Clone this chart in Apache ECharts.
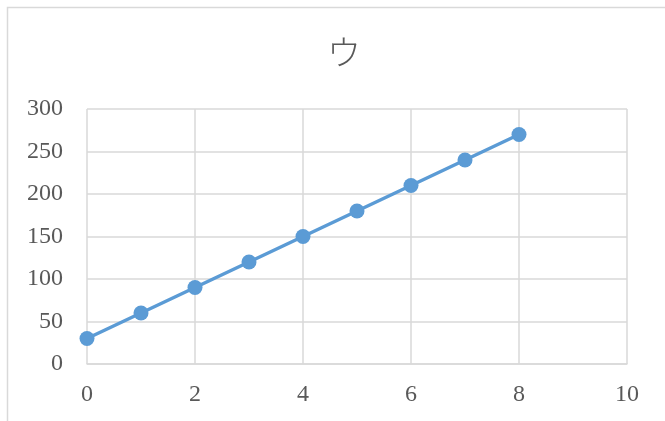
<!DOCTYPE html>
<html><head><meta charset="utf-8">
<script src="https://cdn.jsdelivr.net/npm/echarts@6/dist/echarts.min.js"></script>
<style>html,body{margin:0;padding:0;background:#fff}#c{width:665px;height:421px}</style>
</head><body><div id="c"></div>
<script>
const title = "ウ";
const xValues = [0, 1, 2, 3, 4, 5, 6, 7, 8];
const yValues = [30, 60, 90, 120, 150, 180, 210, 240, 270];
const xAxisRange = [0, 10, 2];
const yAxisRange = [0, 300, 50];

const chart = echarts.init(document.getElementById('c'), null, {renderer: 'canvas'});
const labelFont = {color: '#595959', fontFamily: 'Liberation Serif', fontSize: 24};
chart.setOption({
  animation: false,
  backgroundColor: '#fff',
  title: {
    text: title, left: 322, top: 30,
    textStyle: {fontFamily: 'Noto Sans CJK JP', fontWeight: 300, fontSize: 34, color: '#595959'}
  },
  graphic: [{
    type: 'rect', shape: {x: 7.5, y: 7.5, width: 700, height: 500},
    style: {fill: 'none', stroke: '#D9D9D9', lineWidth: 1.5}, silent: true
  }],
  grid: {left: 87, right: 38, top: 109, bottom: 57},
  xAxis: {
    type: 'value', min: xAxisRange[0], max: xAxisRange[1], interval: xAxisRange[2],
    axisLine: {show: true, lineStyle: {color: '#D9D9D9', width: 1.5}},
    axisTick: {show: false},
    axisLabel: Object.assign({margin: 19}, labelFont),
    splitLine: {show: true, lineStyle: {color: '#D9D9D9', width: 1.5}}
  },
  yAxis: {
    type: 'value', min: yAxisRange[0], max: yAxisRange[1], interval: yAxisRange[2],
    axisLine: {show: false},
    axisTick: {show: false},
    axisLabel: Object.assign({margin: 24}, labelFont),
    splitLine: {show: true, lineStyle: {color: '#D9D9D9', width: 1.5}}
  },
  series: [{
    type: 'line',
    data: xValues.map((x, i) => [x, yValues[i]]),
    symbol: 'circle', symbolSize: 15,
    lineStyle: {color: '#5B9BD5', width: 3.5},
    itemStyle: {color: '#5B9BD5'}
  }]
});
</script></body></html>
